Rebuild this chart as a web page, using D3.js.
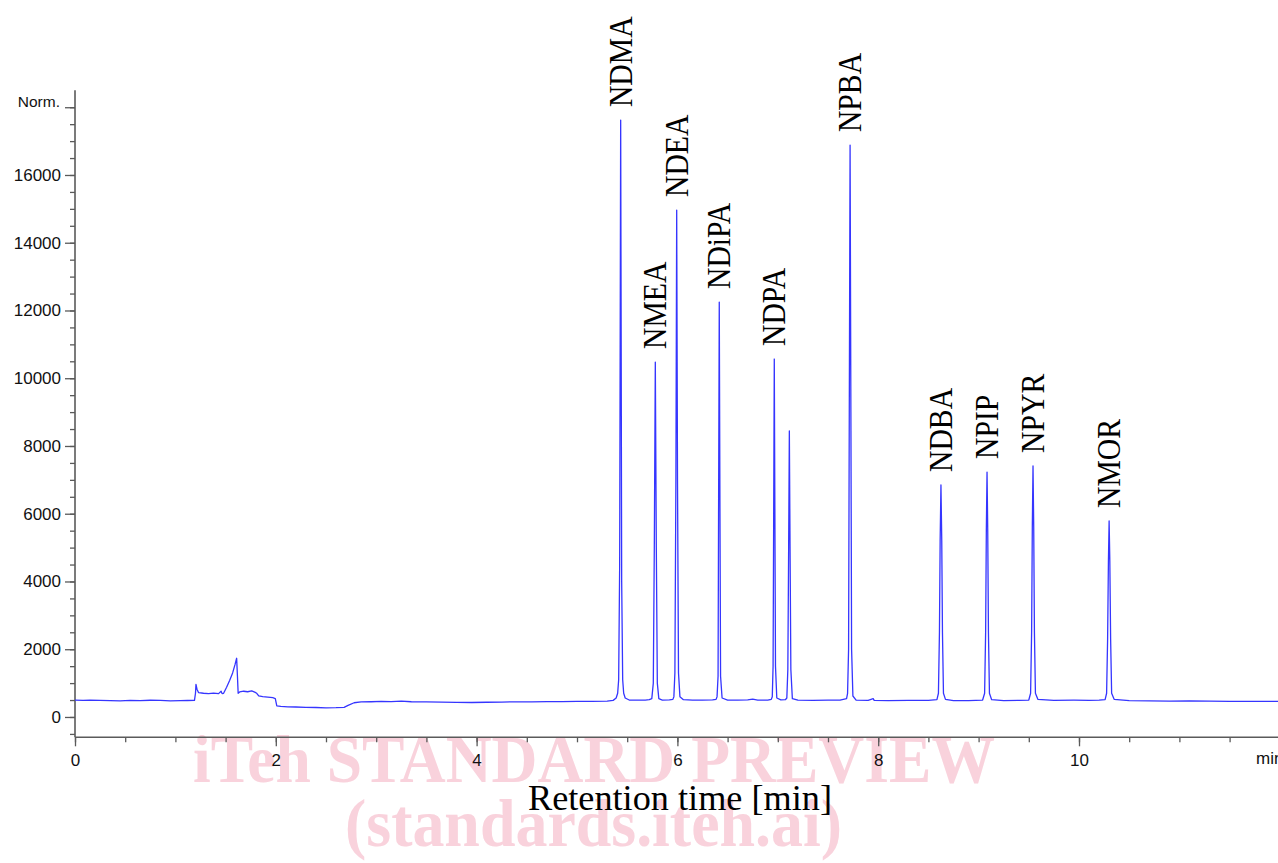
<!DOCTYPE html>
<html>
<head>
<meta charset="utf-8">
<script src="https://cdn.jsdelivr.net/npm/d3@7/dist/d3.min.js"></script>
<style>
  html, body { margin: 0; padding: 0; background: #ffffff; }
  svg { display: block; }
</style>
</head>
<body>
<svg id="chart" width="1278" height="863"></svg>
<script>
// ---- Data ----
const peakNames   = ["NDMA", "NMEA", "NDEA", "NDiPA", "NDPA", "NPBA", "NDBA", "NPIP", "NPYR", "NMOR"];
const peakTimes   = [5.435, 5.78, 5.993, 6.417, 6.965, 7.72, 8.625, 9.084, 9.542, 10.30];
const peakHeights = [17620, 10478, 14965, 12249, 10567, 16883, 6848, 7231, 7409, 5785];

const yMajorTicks = [0, 2000, 4000, 6000, 8000, 10000, 12000, 14000, 16000];
const xMajorTicks = [0, 2, 4, 6, 8, 10];
const yTopLabel = "Norm.";
const xEndLabel = "min";
const xTitle = "Retention time [min]";
const watermark1 = "iTeh STANDARD PREVIEW";
const watermark2 = "(standards.iteh.ai)";

// Retention time (min) of trace points
const traceTime = [
  0.00,0.08,0.15,0.25,0.35,0.45,0.55,0.65,0.75,0.85,0.95,1.05,1.12,1.19,
  1.20,1.205,1.215,1.23,1.28,1.33,1.38,1.43,1.455,1.465,1.48,1.51,1.54,1.57,1.595,1.61,1.618,1.625,
  1.64,1.68,1.72,1.76,1.79,1.81,1.83,1.87,1.92,1.97,1.995,2.01,2.05,2.12,2.20,2.30,2.40,2.50,2.60,2.68,
  2.72,2.78,2.85,2.95,3.05,3.15,3.25,3.35,3.50,3.65,3.80,3.95,4.10,4.25,4.40,4.55,4.70,4.85,5.00,5.15,5.30,
  5.36,5.39,5.405,5.415,5.425,5.430,5.435,5.440,5.445,5.455,5.465,5.48,5.52,5.60,5.68,5.72,
  5.745,5.76,5.77,5.78,5.79,5.80,5.815,5.85,5.92,5.955,
  5.965,5.975,5.985,5.993,6.001,6.011,6.025,6.06,6.15,6.25,6.35,6.385,
  6.395,6.405,6.41,6.417,6.424,6.43,6.445,6.50,6.60,6.70,6.75,6.80,6.90,6.935,
  6.945,6.953,6.959,6.965,6.971,6.977,6.99,7.03,7.075,7.09,
  7.10,7.108,7.115,7.122,7.13,7.145,7.20,7.35,7.50,7.62,7.685,
  7.695,7.705,7.712,7.72,7.728,7.735,7.748,7.78,7.90,7.95,7.96,8.10,8.30,8.50,8.585,
  8.60,8.61,8.617,8.625,8.633,8.64,8.65,8.67,8.75,8.90,9.04,
  9.06,9.07,9.077,9.084,9.091,9.098,9.108,9.13,9.25,9.40,9.50,
  9.518,9.528,9.535,9.542,9.549,9.556,9.566,9.59,9.75,9.95,10.10,10.20,10.26,
  10.275,10.285,10.293,10.30,10.307,10.315,10.325,10.35,10.50,10.70,10.90,11.10,11.30,11.50,11.70,11.90,12.00
];
// Detector response (Norm.) of trace points
const traceSignal = [
  495,488,497,490,482,478,488,484,494,490,478,482,486,488,
  700,965,820,720,700,690,705,690,760,690,700,880,1080,1300,1560,1733,1200,700,
  740,760,745,770,735,700,620,600,585,570,545,330,315,300,295,285,280,270,275,285,
  340,420,445,450,460,455,470,450,445,438,432,428,435,440,448,445,455,452,458,462,470,
  490,560,700,1100,4500,11000,17620,11000,4000,1100,700,560,500,495,500,510,
  540,1000,5000,10478,5000,1000,540,500,505,520,
  600,1300,7000,14965,7000,1300,600,510,500,495,505,520,
  600,1200,6000,12249,6000,1200,560,500,495,505,525,495,500,520,
  600,1500,6000,10567,6000,1500,560,505,510,560,
  1400,5000,8442,5000,1400,540,495,490,495,500,540,
  700,2000,9000,16883,9000,2000,620,500,490,540,490,485,490,488,510,
  700,2500,5200,6848,5200,2500,700,520,480,485,500,
  700,2500,5500,7231,5500,2500,700,510,485,490,500,
  700,2500,5600,7409,5600,2500,700,520,490,495,490,495,510,
  700,2300,4600,5785,4600,2300,700,520,480,478,470,472,465,462,460,458,460
];

// ---- Drawing ----
const svg = d3.select("#chart");
svg.append("rect").attr("width", 1278).attr("height", 863).attr("fill", "#ffffff");

const x = d3.scaleLinear().domain([0, 12]).range([75, 1279.8]);
const y = d3.scaleLinear().domain([-600, 18500]).range([737.3, 90.3]);

// watermark (behind the chart)
const wm = svg.append("g").attr("fill", "#f9d2dc")
  .attr("font-family", "'Liberation Serif', serif").attr("font-weight", "bold").attr("font-size", 68);
wm.append("text").attr("x", 193).attr("y", 782).attr("textLength", 802)
  .attr("lengthAdjust", "spacingAndGlyphs").text(watermark1);
wm.append("text").attr("x", 345).attr("y", 846).attr("textLength", 497)
  .attr("lengthAdjust", "spacingAndGlyphs").text(watermark2);

const axisColor = "#5a5a5a";
const tickFont = "'Liberation Sans', Arial, sans-serif";

// Y axis
const yAxisG = svg.append("g").attr("transform", `translate(${x(0)},0)`);
yAxisG.call(d3.axisLeft(y).tickValues(d3.range(-500, 18001, 500)).tickSize(5).tickFormat(""));
yAxisG.call(g => g.select(".domain").remove());
yAxisG.append("line").attr("x1", 0).attr("x2", 0).attr("y1", y(18500)).attr("y2", y(-600))
  .attr("stroke", axisColor).attr("stroke-width", 1.6);
const yMajG = svg.append("g").attr("transform", `translate(${x(0)},0)`)
  .call(d3.axisLeft(y).tickValues(yMajorTicks.concat([18000])).tickSize(10).tickPadding(4)
    .tickFormat(d => d === 18000 ? "" : d));
yMajG.select(".domain").remove();
yMajG.selectAll("text").attr("font-family", tickFont).attr("font-size", 17).attr("fill", "#111");
svg.selectAll(".tick line").attr("stroke", axisColor).attr("stroke-width", 1.3);
svg.append("text").attr("x", 60).attr("y", 107).attr("text-anchor", "end")
  .attr("font-family", tickFont).attr("font-size", 15.5).attr("fill", "#111").text(yTopLabel);

// X axis
const xAxisG = svg.append("g").attr("transform", `translate(0,${y(-600)})`);
xAxisG.call(d3.axisBottom(x).tickValues(d3.range(0, 12, 0.5)).tickSize(5).tickFormat(""));
xAxisG.select(".domain").remove();
const xMajG = svg.append("g").attr("transform", `translate(0,${y(-600)})`)
  .call(d3.axisBottom(x).tickValues(xMajorTicks).tickSize(9).tickPadding(8));
xMajG.select(".domain").remove();
xMajG.selectAll("text").attr("font-family", tickFont).attr("font-size", 17).attr("fill", "#111");
svg.selectAll(".tick line").attr("stroke", axisColor).attr("stroke-width", 1.3);
svg.append("line").attr("x1", x(0)).attr("x2", 1278).attr("y1", y(-600)).attr("y2", y(-600))
  .attr("stroke", axisColor).attr("stroke-width", 1.6);
svg.append("text").attr("x", 1256).attr("y", 764)
  .attr("font-family", tickFont).attr("font-size", 17).attr("fill", "#111").text(xEndLabel);

// X axis title
svg.append("text").attr("x", 680).attr("y", 810).attr("text-anchor", "middle")
  .attr("font-family", "'Liberation Serif', serif").attr("font-size", 35).attr("fill", "#000")
  .attr("textLength", 304).attr("lengthAdjust", "spacingAndGlyphs").text(xTitle);

// Trace
const pts = traceTime.map((t, i) => [t, traceSignal[i]]);
const line = d3.line().x(d => x(d[0])).y(d => y(d[1]));
svg.append("path").datum(pts).attr("d", line)
  .attr("fill", "none").attr("stroke", "#3535ff").attr("stroke-width", 1.3)
  .attr("stroke-linejoin", "round");

// Peak labels
svg.append("g").selectAll("text").data(peakNames).join("text")
  .attr("transform", (d, i) => `translate(${x(peakTimes[i]) + 11},${y(peakHeights[i]) - 13}) rotate(-90) scale(0.9,1)`)
  .attr("font-family", "'Liberation Serif', serif").attr("font-size", 33).attr("fill", "#000")
  .text(d => d);
</script>
</body>
</html>
